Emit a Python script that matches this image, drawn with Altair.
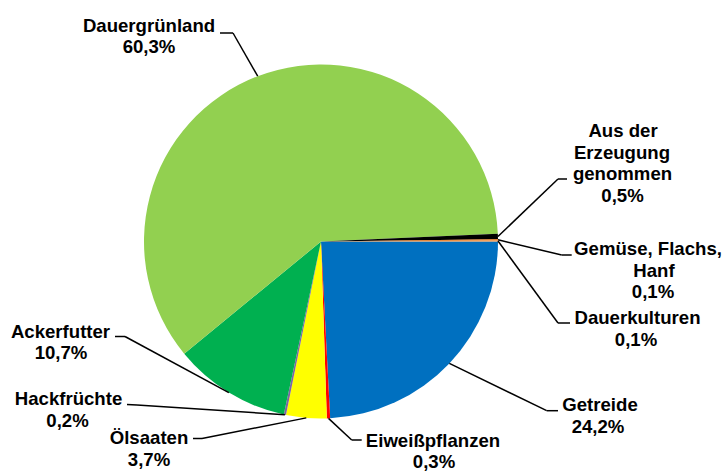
import math
import altair as alt
import pandas as pd

# ---- data ----
categories = ["Getreide", "Eiweißpflanzen", "Ölsaaten", "Hackfrüchte", "Ackerfutter",
              "Dauergrünland", "Aus der Erzeugung genommen", "Gemüse, Flachs, Hanf", "Dauerkulturen"]
values = [24.2, 0.3, 3.7, 0.2, 10.7, 60.3, 0.5, 0.1, 0.1]
value_labels = ["24,2%", "0,3%", "3,7%", "0,2%", "10,7%", "60,3%", "0,5%", "0,1%", "0,1%"]
name_lines = [["Getreide"], ["Eiweißpflanzen"], ["Ölsaaten"], ["Hackfrüchte"], ["Ackerfutter"],
              ["Dauergrünland"], ["Aus der", "Erzeugung", "genommen"], ["Gemüse, Flachs,", "Hanf"],
              ["Dauerkulturen"]]

# ---- styles / layout ----
colors = ["#0070C0", "#FF0000", "#FFFF00", "#8064A2", "#00B050",
          "#92D050", "#000000", "#E46C0A", "#F79646"]
W, H = 728, 471
CX, CY, R = 321, 241.5, 177
FONT = "Liberation Sans"
FS = 18.6
LH = 21.6
START = math.pi / 2

# label block: per category x-centre of each line (same order as lines incl. value) and first-line y
label_x = [[600, 598], [433, 434], [149, 149], [68.5, 67.5], [60.5, 61],
           [149, 149], [623, 622, 622.5, 622.5], [648, 654, 653], [637.5, 636]]
label_y0 = [405, 440.7, 438.3, 399, 331.5, 25.5, 131, 249, 318]
# leader line: elbow and end point next to the label
elbow = [(546.7, 410.7), (351.7, 440), (202, 438.5), (137, 405), (125, 336.5),
         (233, 33), (558, 179), (561.7, 255), (558, 323)]
ends = [(558, 410.7), (361.7, 440), (193, 438.5), (127, 404.5), (115, 336.5),
        (220, 33), (567, 179), (571.7, 255), (570, 323)]

pie_df = pd.DataFrame({"cat": categories, "value": values, "idx": list(range(len(values)))})

# text rows
rows = []
for i, cat in enumerate(categories):
    lines = name_lines[i] + [value_labels[i]]
    for j, t in enumerate(lines):
        rows.append({"text": t, "x": label_x[i][j], "y": label_y0[i] + j * LH})
text_df = pd.DataFrame(rows)

# leader segments from slice mid-angle on the rim
total = sum(values)
cum = 0.0
segs = []
for i, v in enumerate(values):
    mid = START + 2 * math.pi * (cum + v / 2) / total
    cum += v
    px = CX + R * math.sin(mid)
    py = CY - R * math.cos(mid)
    ex, ey = elbow[i]
    tx, ty = ends[i]
    segs.append({"x": px, "y": py, "x2": ex, "y2": ey})
    segs.append({"x": ex, "y": ey, "x2": tx, "y2": ty})
seg_df = pd.DataFrame(segs)

xs = alt.Scale(domain=[0, W], range=[0, W])
ys = alt.Scale(domain=[0, H], range=[0, H])

pie = alt.Chart(pie_df).mark_arc(radius=R, stroke=None).encode(
    theta=alt.Theta("value:Q", stack=True,
                    scale=alt.Scale(range=[START, START + 2 * math.pi])),
    order=alt.Order("idx:Q", sort="ascending"),
    color=alt.Color("cat:N", scale=alt.Scale(domain=categories, range=colors), legend=None),
    x=alt.value(CX),
    y=alt.value(CY),
)

rules = alt.Chart(seg_df).mark_rule(color="black", strokeWidth=1.5).encode(
    x=alt.X("x:Q", scale=xs, axis=None),
    y=alt.Y("y:Q", scale=ys, axis=None),
    x2="x2:Q",
    y2="y2:Q",
)

texts = alt.Chart(text_df).mark_text(
    font=FONT, fontSize=FS, fontWeight="bold", color="black",
    align="center", baseline="middle"
).encode(
    x=alt.X("x:Q", scale=xs, axis=None),
    y=alt.Y("y:Q", scale=ys, axis=None),
    text="text:N",
)

chart = alt.layer(pie, rules, texts).properties(
    width=W, height=H, padding=0, autosize=alt.AutoSizeParams(type="none"),
    background="white",
).configure_view(stroke=None)

chart.save("out.html", embed_options={"renderer": "svg", "actions": False})
